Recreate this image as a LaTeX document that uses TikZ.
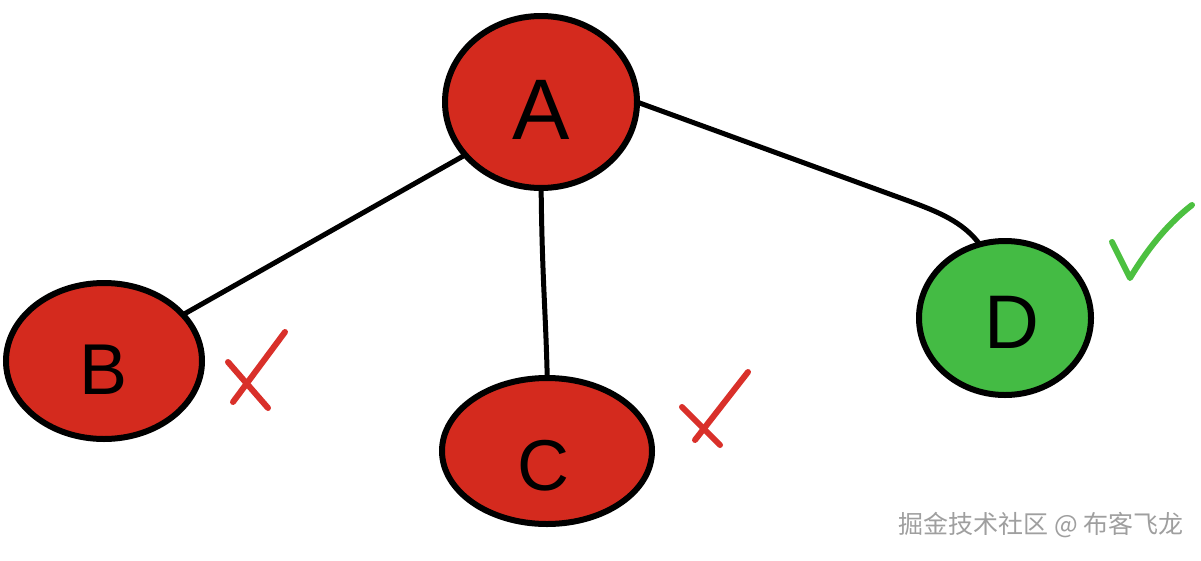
\documentclass[tikz,border=0pt]{standalone}
\usepackage{fontspec}
\setmainfont{Liberation Sans}
\newfontfamily\cjk{Noto Sans CJK SC}
\usetikzlibrary{shapes.geometric}
\definecolor{nodered}{HTML}{D42A1E}
\definecolor{nodegreen}{HTML}{44BB44}
\definecolor{markred}{HTML}{D9302A}
\definecolor{markgreen}{HTML}{4CC040}
\begin{document}
\begin{tikzpicture}[x=1pt,y=-1pt,
  circ/.style={ellipse, draw=black, line width=6pt, inner sep=0pt},
  edge/.style={draw=black, line width=5pt, line cap=round},
  tick/.style={line width=6pt, line cap=round, line join=round}]
\useasboundingbox[fill=white] (0,0) rectangle (1201,560);
% edges first
\coordinate (ea) at (541,112);
\coordinate (eaD) at (560,74);
\coordinate (eb) at (103,360);
\coordinate (ec) at (548,450);
\coordinate (ed) at (1000,300);
\coordinate (bend) at (895,196);
\draw[edge] (ea) -- (eb);
\draw[edge] (ea) .. controls (540,300) and (548,300) .. (ec);
\draw[edge] (eaD) -- (bend) .. controls (950,216) and (990,228) .. (ed);
% nodes
\node[circ, fill=nodered, minimum width=192pt, minimum height=172pt] (A) at (541,102) {};
\node[font=\fontsize{86}{86}\selectfont] (LA) at (541,110) {A};
\node[circ, fill=nodered, minimum width=196pt, minimum height=156pt] (B) at (104,361) {};
\node[font=\fontsize{72}{72}\selectfont] (LB) at (104,370) {B};
\node[circ, fill=nodered, minimum width=210pt, minimum height=146pt] (C) at (547,451) {};
\node[font=\fontsize{72}{72}\selectfont] (LC) at (543,466) {C};
\node[circ, fill=nodegreen, minimum width=172pt, minimum height=154pt] (D) at (1005,318) {};
\node[font=\fontsize{76}{76}\selectfont] (LD) at (1012,322) {D};
% marks
\coordinate (b1) at (285,332); \coordinate (b2) at (233,402);
\coordinate (b3) at (228,362); \coordinate (b4) at (268,408);
\draw[tick, markred] (b1) -- (b2);
\draw[tick, markred] (b3) -- (b4);
\coordinate (c1) at (748,372); \coordinate (c2) at (695,440);
\coordinate (c3) at (682,407); \coordinate (c4) at (720,445);
\draw[tick, markred] (c1) -- (c2);
\draw[tick, markred] (c3) -- (c4);
\coordinate (d1) at (1112,242); \coordinate (d2) at (1130,278); \coordinate (d3) at (1192,205);
\draw[tick, markgreen] (d1) -- (d2) .. controls (1150,245) and (1170,222) .. (d3);
% watermark
\node[font=\cjk\fontsize{25}{25}\selectfont, text=gray!75, anchor=east] (wm) at (1187,525) {掘金技术社区 @ 布客飞龙};
\end{tikzpicture}
\end{document}
